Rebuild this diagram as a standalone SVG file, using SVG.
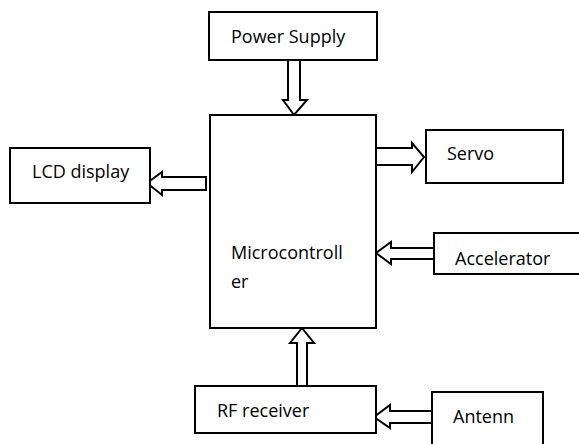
<svg xmlns="http://www.w3.org/2000/svg" width="579" height="444" viewBox="0 0 579 444">
<style>
.box{fill:#fff;stroke:#000;stroke-width:2}
.arr{fill:#fff;stroke:#000;stroke-width:2;stroke-linejoin:miter}
text{font-family:"Open Sans","Liberation Sans",sans-serif;font-size:18px;fill:#000}
</style>
<rect width="579" height="444" fill="#fff"/>
<g id="connectors">
<polygon class="arr" points="288,60 300,60 300,100 307,100 294,115 283,100 288,100"/>
<polygon class="arr" points="206,177 206,190 162,190 162,195 147,183 162,172 162,177"/>
<polygon class="arr" points="376,148 412,148 412,143 424,157 412,172 412,165 376,165"/>
<polygon class="arr" points="434,248 434,259 391,259 391,264 376,253 391,242 391,248"/>
<polygon class="arr" points="297,386 297,343 290,343 302,328 314,343 307,343 307,386"/>
<polygon class="arr" points="432,411 432,423 390,423 390,428 374,417 390,405 390,411"/>
</g>
<g id="power-supply"><rect class="box" x="209" y="12" width="168" height="48"/><text x="231" y="43">Power Supply</text></g>
<g id="microcontroller"><rect class="box" x="210" y="115" width="166" height="213"/><text x="231" y="259">Microcontroll</text><text x="231" y="288">er</text></g>
<g id="lcd-display"><rect class="box" x="10" y="148" width="140" height="55"/><text x="32" y="178">LCD display</text></g>
<g id="servo"><rect class="box" x="426" y="130" width="137" height="53"/><text x="447" y="160">Servo</text></g>
<g id="accelerator"><rect class="box" x="434" y="233" width="150" height="41"/><text x="455" y="265">Accelerator</text></g>
<g id="rf-receiver"><rect class="box" x="195" y="386" width="181" height="47"/><text x="217" y="417">RF receiver</text></g>
<g id="antenna"><rect class="box" x="432" y="392" width="111" height="60"/><text x="453" y="423">Antenn</text></g>
</svg>
